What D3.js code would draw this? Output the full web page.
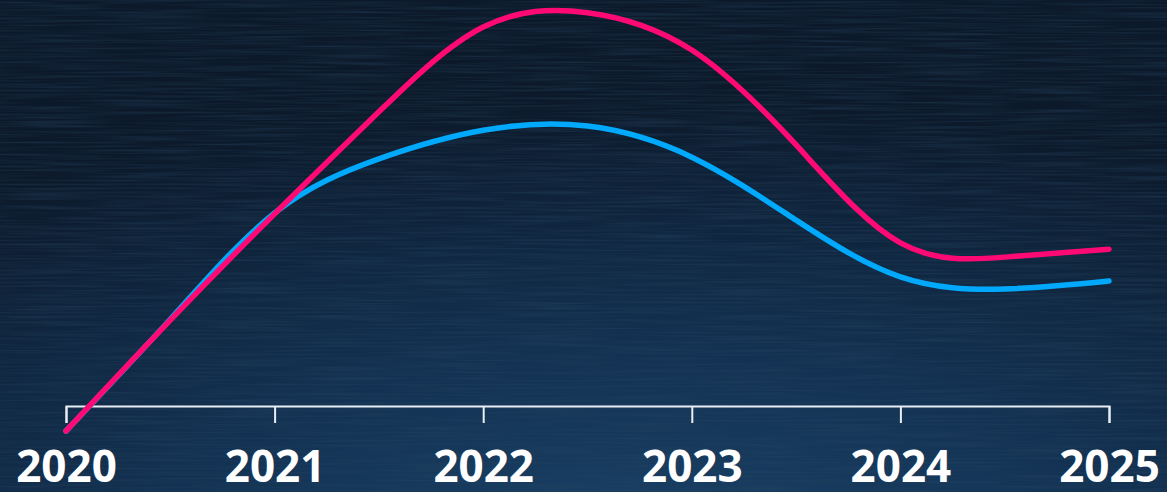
<!DOCTYPE html>
<html>
<head>
<meta charset="utf-8">
<script src="https://cdn.jsdelivr.net/npm/d3@7"></script>
<style>
  html, body { margin: 0; padding: 0; background: #0d1c2e; }
  svg { display: block; }
</style>
</head>
<body>
<div id="chart"></div>
<script>
// Tick labels on the x axis
const tickYears = [2020, 2021, 2022, 2023, 2024, 2025];
// Half-year sample positions
const years = [2020, 2020.5, 2021, 2021.5, 2022, 2022.5, 2023, 2023.5, 2024, 2024.5, 2025];
// Two series (unitless index, 0..100)
const pinkValues = [0, 26.4, 51.7, 76.0, 96.2, 99.6, 90.7, 68.1, 44.8, 41.4, 43.3];
const blueValues = [0, 26.6, 51.9, 64.8, 71.6, 72.6, 65.2, 50.2, 36.7, 33.8, 35.7];

const W = 1167, H = 492;

const svg = d3.select('#chart').append('svg')
  .attr('width', W).attr('height', H)
  .attr('viewBox', `0 0 ${W} ${H}`);

const defs = svg.append('defs');

// background: dark navy, lighter towards the bottom
const bg = defs.append('radialGradient')
  .attr('id', 'bg').attr('cx', '55%').attr('cy', '115%').attr('r', '95%')
  .attr('gradientUnits', 'objectBoundingBox');
bg.append('stop').attr('offset', '0%').attr('stop-color', '#1a4368');
bg.append('stop').attr('offset', '45%').attr('stop-color', '#133253');
bg.append('stop').attr('offset', '100%').attr('stop-color', '#0c192a');

// fine brushed streak texture
const tex = defs.append('filter').attr('id', 'streaks')
  .attr('x', 0).attr('y', 0).attr('width', '100%').attr('height', '100%');
tex.append('feTurbulence')
  .attr('type', 'fractalNoise')
  .attr('baseFrequency', '0.01 0.5')
  .attr('numOctaves', 2)
  .attr('seed', 7)
  .attr('result', 'noise');
tex.append('feColorMatrix')
  .attr('type', 'matrix')
  .attr('values', '0 0 0 0 0.02  0 0 0 0 0.06  0 0 0 0 0.12  0 0 0 1.6 -0.6');

svg.append('rect').attr('width', W).attr('height', H).attr('fill', 'url(#bg)');
svg.append('rect').attr('width', W).attr('height', H)
  .attr('filter', 'url(#streaks)').attr('opacity', 0.55);

const x = d3.scaleLinear().domain([2020, 2025]).range([66, 1109]);
const y = d3.scaleLinear().domain([0, 100]).range([431, 11]);

// axis
const axisY = 406;
const axis = svg.append('g')
  .attr('transform', `translate(0,${axisY})`)
  .call(d3.axisBottom(x).tickValues(tickYears).tickFormat(d3.format('d')).tickSize(17));

axis.select('.domain').attr('stroke', '#e9eef4').attr('stroke-width', 2);
axis.selectAll('.tick line').attr('stroke', '#e9eef4').attr('stroke-width', 2);
axis.selectAll('.tick text')
  .attr('y', 76).attr('dy', 0)
  .attr('fill', '#ffffff')
  .attr('font-family', '"Open Sans", Lato, sans-serif')
  .attr('font-weight', 700)
  .attr('font-size', 44);

const line = d3.line()
  .x((d, i) => x(years[i]))
  .y(d => y(d))
  .curve(d3.curveNatural);

svg.append('path').datum(blueValues)
  .attr('fill', 'none').attr('stroke', '#00a9fb')
  .attr('stroke-width', 5.5).attr('stroke-linecap', 'round')
  .attr('d', line);

svg.append('path').datum(pinkValues)
  .attr('fill', 'none').attr('stroke', '#ff0a75')
  .attr('stroke-width', 5.5).attr('stroke-linecap', 'round')
  .attr('d', line);
</script>
</body>
</html>
